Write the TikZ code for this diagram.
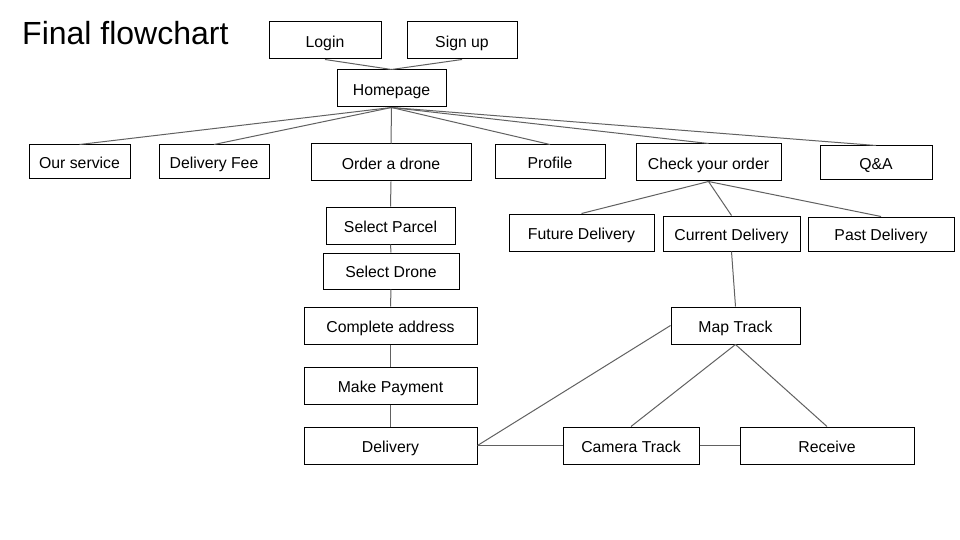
\documentclass[tikz,border=0pt]{standalone}
\usepackage{fontspec}
\setmainfont{Liberation Sans}
\begin{document}
\begin{tikzpicture}[x=1pt,y=-1pt,
  box/.style={draw=black, line width=1pt, rectangle, inner sep=0pt, text height=13.5pt, text depth=0pt, font=\fontsize{15.8}{18}\selectfont},
  link/.style={draw=black!62, line width=1pt}]
\useasboundingbox[fill=white] (0,0) rectangle (960,540);
\node[anchor=base west, inner sep=0pt, font=\fontsize{32}{36}\selectfont] (title) at (22,45) {Final flowchart};
\node[box, minimum width=112pt, minimum height=37pt] (login) at (325,40.5) {Login};
\node[box, minimum width=110pt, minimum height=37pt] (signup) at (462,40.5) {Sign up};
\node[box, minimum width=109pt, minimum height=37pt] (home) at (391.5,88.5) {Homepage};
\node[box, minimum width=101pt, minimum height=34pt] (service) at (79.5,162) {Our service};
\node[box, minimum width=110pt, minimum height=34pt] (fee) at (214,162) {Delivery Fee};
\node[box, minimum width=160pt, minimum height=37pt] (order) at (391,162.5) {Order a drone};
\node[box, minimum width=110pt, minimum height=34pt] (profile) at (550,162) {Profile};
\node[box, minimum width=145pt, minimum height=37pt] (check) at (708.5,162.5) {Check your order};
\node[box, minimum width=112pt, minimum height=34pt] (qa) at (876,163) {Q\&A};
\node[box, minimum width=145pt, minimum height=37pt] (future) at (581.5,232.5) {Future Delivery};
\node[box, minimum width=137pt, minimum height=35pt] (current) at (731.5,233.5) {Current Delivery};
\node[box, minimum width=146pt, minimum height=34pt] (past) at (881,234) {Past Delivery};
\node[box, minimum width=129pt, minimum height=37pt] (parcel) at (390.5,225.5) {Select Parcel};
\node[box, minimum width=136pt, minimum height=36pt] (drone) at (391,271) {Select Drone};
\node[box, minimum width=173pt, minimum height=37pt] (address) at (390.5,325.5) {Complete address};
\node[box, minimum width=173pt, minimum height=37pt] (payment) at (390.5,385.5) {Make Payment};
\node[box, minimum width=173pt, minimum height=37pt] (delivery) at (390.5,445.5) {Delivery};
\node[box, minimum width=129pt, minimum height=37pt] (map) at (735.5,325.5) {Map Track};
\node[box, minimum width=136pt, minimum height=37pt] (camera) at (631,445.5) {Camera Track};
\node[box, minimum width=174pt, minimum height=37pt] (receive) at (827,445.5) {Receive};
\draw[link] (login.south) -- (home.north);
\draw[link] (signup.south) -- (home.north);
\foreach \n in {service,fee,order,profile,check,qa} \draw[link] (home.south) -- (\n.north);
\foreach \n in {future,current,past} \draw[link] (check.south) -- (\n.north);
\draw[link] (order.south) -- (parcel.north);
\draw[link] (parcel.south) -- (drone.north);
\draw[link] (drone.south) -- (address.north);
\draw[link] (address.south) -- (payment.north);
\draw[link] (payment.south) -- (delivery.north);
\draw[link] (current.south) -- (map.north);
\draw[link] (map.west) -- (delivery.east);
\draw[link] (map.south) -- (camera.north);
\draw[link] (map.south) -- (receive.north);
\draw[link] (delivery.east) -- (camera.west);
\draw[link] (camera.east) -- (receive.west);
\end{tikzpicture}
\end{document}
